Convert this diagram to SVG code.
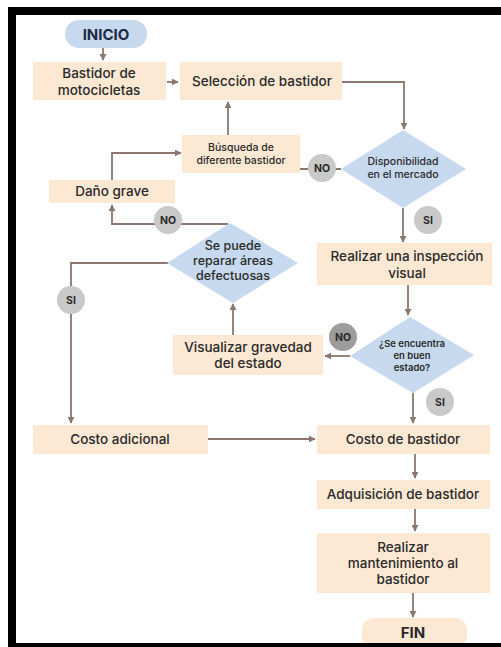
<svg xmlns="http://www.w3.org/2000/svg" width="501" height="647" viewBox="0 0 501 647">
<defs>
<marker id="ah" viewBox="0 0 10 10" refX="9" refY="5" markerWidth="7" markerHeight="7" markerUnits="userSpaceOnUse" orient="auto">
<path d="M0,0 L10,5 L0,10 z" fill="#8b776f"/>
</marker>
<style>
.box{fill:#fde8d4}
.dia{fill:#c6d9ee}
.t{font-family:Inter,"Open Sans","Liberation Sans",sans-serif;font-size:13.5px;font-weight:500;fill:#2a2a2a;text-anchor:middle}
.td{font-family:Inter,"Open Sans","Liberation Sans",sans-serif;font-size:12.5px;font-weight:500;fill:#2a2a2a;text-anchor:middle}
.ts{font-family:Inter,"Open Sans","Liberation Sans",sans-serif;font-size:10.5px;font-weight:500;fill:#2a2a2a;text-anchor:middle}
.tx{font-family:Inter,"Open Sans","Liberation Sans",sans-serif;font-size:9.5px;font-weight:600;fill:#2a2a2a;text-anchor:middle}
.tb{font-family:Inter,"Open Sans","Liberation Sans",sans-serif;font-size:15px;font-weight:700;fill:#1f2a44;text-anchor:middle}
.c{fill:none;stroke:#8b776f;stroke-width:1.8}
.lbl{fill:#c9c9c9}
.lbld{fill:#9c9c9c}
.lt{font-family:Inter,"Open Sans","Liberation Sans",sans-serif;font-size:10.5px;font-weight:700;fill:#2a2a2a;text-anchor:middle}
</style>
</defs>
<rect width="501" height="647" fill="#ffffff"/>
<path d="M8,7 H501 V15 H16 V643 H501 V647 H8 Z" fill="#000000"/>

<g id="connectors">
<path class="c" d="M103,48 V60" marker-end="url(#ah)"/>
<path class="c" d="M167,82 H178" marker-end="url(#ah)"/>
<path class="c" d="M342,82 H404 V129" marker-end="url(#ah)"/>
<path class="c" d="M341,169 H300"/>
<path class="c" d="M228,135 V102" marker-end="url(#ah)"/>
<path class="c" d="M112,180 V153 H181" marker-end="url(#ah)"/>
<path class="c" d="M228,224 H112 V205" marker-end="url(#ah)"/>
<path class="c" d="M403,208 V242" marker-end="url(#ah)"/>
<path class="c" d="M408,285 V315" marker-end="url(#ah)"/>
<path class="c" d="M350,356 H325" marker-end="url(#ah)"/>
<path class="c" d="M233,335 V304" marker-end="url(#ah)"/>
<path class="c" d="M168,263 H71 V423" marker-end="url(#ah)"/>
<path class="c" d="M413,393 V423" marker-end="url(#ah)"/>
<path class="c" d="M208,439 H315" marker-end="url(#ah)"/>
<path class="c" d="M415,454 V478" marker-end="url(#ah)"/>
<path class="c" d="M415,509 V531" marker-end="url(#ah)"/>
<path class="c" d="M413,593 V617" marker-end="url(#ah)"/>
</g>

<g id="inicio">
<rect x="65" y="20" width="82" height="28" rx="14" fill="#c6d9ee"/>
<text class="tb" x="106" y="39.5">INICIO</text>
</g>

<g id="bastidor-moto">
<rect class="box" x="33" y="62" width="133" height="38"/>
<text class="t" x="99" y="78">Bastidor de</text>
<text class="t" x="99" y="95">motocicletas</text>
</g>

<g id="seleccion">
<rect class="box" x="180" y="62" width="162" height="38"/>
<text class="t" x="262" y="86">Selección de bastidor</text>
</g>

<g id="disponibilidad">
<polygon class="dia" points="403,130 466,169 403,208 341,169"/>
<text class="ts" x="403" y="165">Disponibilidad</text>
<text class="ts" x="403" y="178">en el mercado</text>
</g>

<g id="no1">
<circle class="lbl" cx="322" cy="168" r="14"/>
<text class="lt" x="322" y="172">NO</text>
</g>

<g id="busqueda">
<rect class="box" x="182" y="135" width="118" height="38"/>
<text class="ts" x="241" y="151">Búsqueda de</text>
<text class="ts" x="241" y="164">diferente bastidor</text>
</g>

<g id="dano">
<rect class="box" x="49" y="180" width="126" height="23"/>
<text class="t" x="112" y="196">Daño grave</text>
</g>

<g id="no2">
<circle class="lbl" cx="168" cy="220" r="14"/>
<text class="lt" x="168" y="224">NO</text>
</g>

<g id="si1">
<circle class="lbl" cx="428" cy="220" r="14"/>
<text class="lt" x="428" y="224">SI</text>
</g>

<g id="reparar">
<polygon class="dia" points="230,223 298,263 233,303 167,263"/>
<text class="td" x="233" y="250">Se puede</text>
<text class="td" x="233" y="265">reparar áreas</text>
<text class="td" x="233" y="280">defectuosas</text>
</g>

<g id="si2">
<circle class="lbl" cx="71" cy="300" r="14"/>
<text class="lt" x="71" y="304">SI</text>
</g>

<g id="inspeccion">
<rect class="box" x="317" y="243" width="175" height="42"/>
<text class="t" x="407" y="261">Realizar una inspección</text>
<text class="t" x="407" y="278">visual</text>
</g>

<g id="buen-estado">
<polygon class="dia" points="410,317 474,355 413,393 350,356"/>
<text class="tx" x="412" y="347">¿Se encuentra</text>
<text class="tx" x="412" y="359">en buen</text>
<text class="tx" x="412" y="371">estado?</text>
</g>

<g id="no3">
<circle class="lbld" cx="343" cy="337" r="14"/>
<text class="lt" x="343" y="341">NO</text>
</g>

<g id="si3">
<circle class="lbl" cx="440" cy="402" r="14"/>
<text class="lt" x="440" y="406">SI</text>
</g>

<g id="visualizar">
<rect class="box" x="173" y="335" width="150" height="40"/>
<text class="t" x="248" y="352">Visualizar gravedad</text>
<text class="t" x="248" y="368">del estado</text>
</g>

<g id="costo-adicional">
<rect class="box" x="33" y="425" width="175" height="29"/>
<text class="t" x="120" y="444">Costo adicional</text>
</g>

<g id="costo-bastidor">
<rect class="box" x="317" y="425" width="173" height="29"/>
<text class="t" x="403" y="444">Costo de bastidor</text>
</g>

<g id="adquisicion">
<rect class="box" x="317" y="480" width="173" height="29"/>
<text class="t" x="403" y="499">Adquisición de bastidor</text>
</g>

<g id="mantenimiento">
<rect class="box" x="317" y="533" width="173" height="60"/>
<text class="t" x="403" y="552">Realizar</text>
<text class="t" x="403" y="568">mantenimiento al</text>
<text class="t" x="403" y="584">bastidor</text>
</g>

<g id="fin">
<rect class="box" x="362" y="618" width="105" height="30" rx="12"/>
<text class="tb" x="413" y="638" style="fill:#2a2a2a">FIN</text>
</g>
<rect x="8" y="643" width="493" height="4" fill="#000000"/>
</svg>
